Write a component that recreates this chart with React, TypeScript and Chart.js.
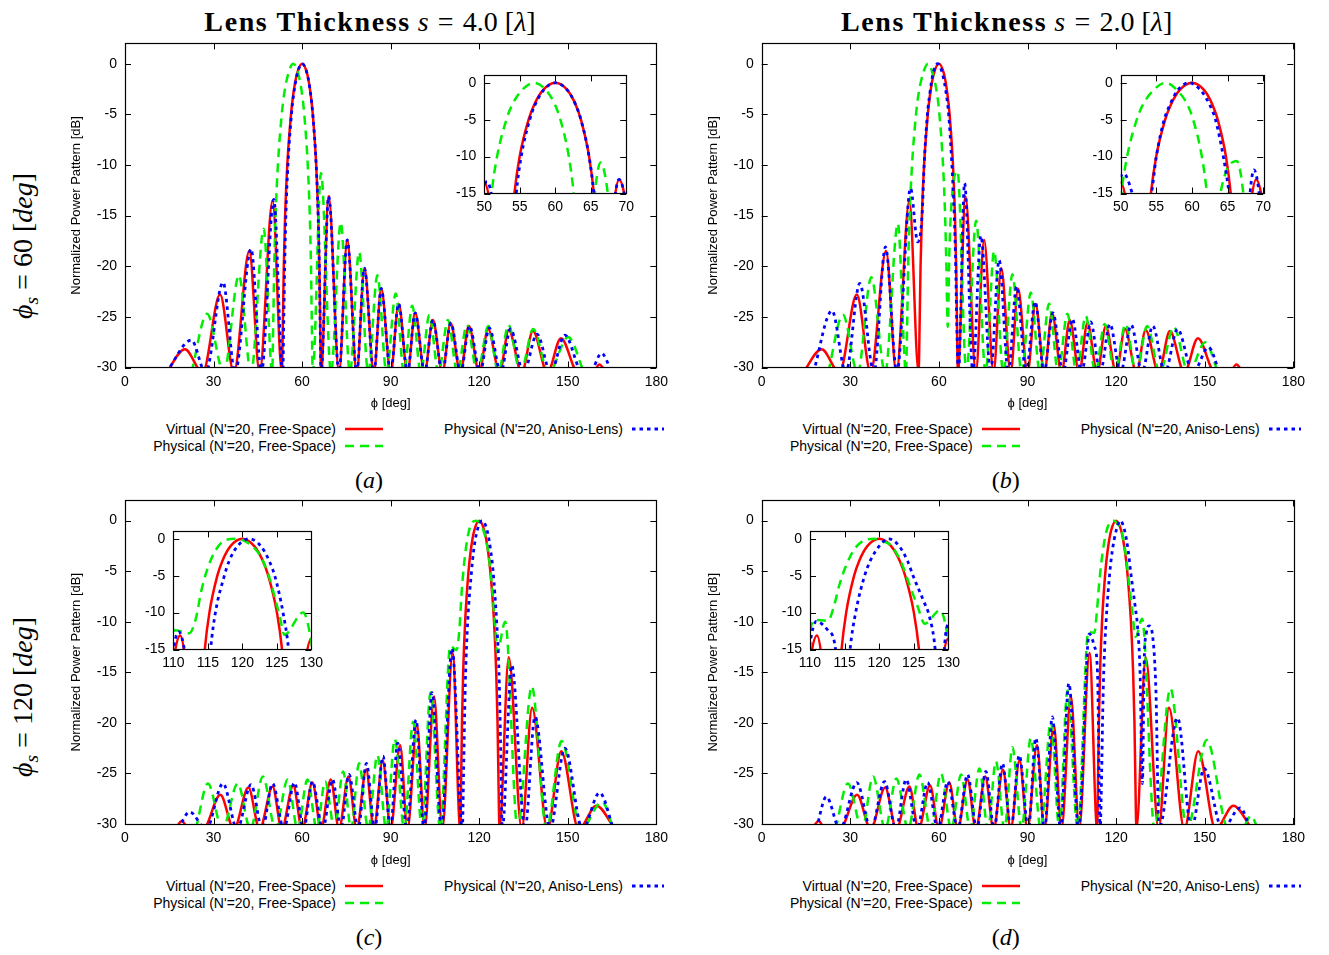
import React, { useEffect, useRef } from "react";
import { Chart, registerables } from "chart.js";
Chart.register(...registerables);

type Pt = [number, number];

// ---------- tick labels ----------
const phiTicks = [0, 30, 60, 90, 120, 150, 180];
const dbTicks = [-30, -25, -20, -15, -10, -5, 0];
const zoomDbTicks = [-15, -10, -5, 0];
const zoomPhiTicks60 = [50, 55, 60, 65, 70];
const zoomPhiTicks120 = [110, 115, 120, 125, 130];

const seriesNames = [
  "Virtual (N'=20, Free-Space)",
  "Physical (N'=20, Free-Space)",
  "Physical (N'=20, Aniso-Lens)",
];
const thicknessLabels = ["4.0", "2.0"];
const scanLabels = ["60", "120"];
const captionLetters = ["a", "b", "c", "d"];

// ---------- series (phi [deg], normalized power [dB]); -30.5 marks a null just below the axis ----------
const virtual60: Pt[] = [
  [14, -30.5], [20.3, -28.2], [26.3, -30.5], [32.2, -22.8], [36.9, -30.5], [42.1, -18.5], [45.6, -30.5], [50.0, -13.5],
  [53.13, -30.5], [53.51, -25], [53.79, -20], [54.24, -15], [54.98, -10], [56.24, -5], [57.02, -3], [58.27, -1], [60, 0],
  [61.71, -1], [62.89, -3], [63.62, -5], [64.77, -10], [65.44, -15], [65.84, -20], [66.09, -25], [66.42, -30.5],
  [69.0, -13.1], [72.5, -30.5], [75.3, -17.4], [78.5, -30.5], [81.1, -20.2], [84.3, -30.5], [86.8, -22.2], [90, -30.5],
  [92.7, -23.7], [95.7, -30.5], [98.3, -24.6], [101.5, -30.5], [104.3, -25.3], [107.5, -30.5], [110.3, -25.6], [113.6, -30.5],
  [116.5, -25.9], [120, -30.5], [123, -26.2], [126.9, -30.5], [130, -26.3], [134.4, -30.5], [138.2, -26.4], [143.1, -30.5],
  [147.7, -27.1], [153.5, -30.5], [158.5, -30.5], [160.7, -29.7], [163, -30.5],
];
const physFree60s4: Pt[] = [
  [22.5, -30.5], [27.8, -24.7], [33.5, -30.5], [38.6, -20.9], [42.7, -30.5], [47.0, -16.3], [49.87, -30.5],
  [50.26, -25], [50.55, -20], [51.02, -15], [51.8, -10], [53.11, -5], [53.92, -3], [55.3, -1], [57, 0], [58.7, -1],
  [59.98, -3], [60.73, -5], [61.91, -10], [62.6, -15], [63.01, -20], [63.26, -25], [63.6, -30.5],
  [66.4, -10.8], [69.8, -30.5], [73.1, -15.7], [76.2, -30.5], [79.3, -18.6], [82.4, -30.5], [85.5, -20.9], [88.6, -30.5],
  [91.7, -22.7], [94.5, -30.5], [97.3, -23.9], [100.2, -30.5], [103.1, -24.8], [106.2, -30.5], [109.4, -25.3], [112.6, -30.5],
  [115.8, -25.8], [119.4, -30.5], [123.1, -25.9], [126.5, -30.5], [129.9, -25.8], [134, -30.5], [138.3, -26.2], [143.5, -30.5],
  [150.1, -27.0], [155.5, -30.5],
];
const aniso60s4: Pt[] = [
  [14, -30.5], [22.5, -27.3], [27.3, -30.5], [33.2, -21.6], [37.3, -30.5], [42.7, -18.3], [46.2, -30.5], [50.4, -13.4],
  [53.45, -30.5], [53.8, -25], [54.1, -20], [54.5, -15], [55.2, -10], [56.4, -5], [57.15, -3], [58.35, -1], [60, 0],
  [61.71, -1], [62.89, -3], [63.62, -5], [64.77, -10], [65.44, -15], [65.84, -20], [66.09, -25], [66.42, -30.5],
  [69.0, -13.1], [72.5, -30.5], [75.3, -17.4], [78.5, -30.5], [81.1, -20.2], [84.3, -30.5], [86.8, -22.2], [90, -30.5],
  [92.7, -23.7], [95.7, -30.5], [98.3, -24.6], [101.5, -30.5], [104.3, -25.3], [107.5, -30.5], [110.4, -25.6], [113.7, -30.5],
  [116.7, -25.9], [120.3, -30.5], [123.4, -26.1], [127.3, -30.5], [130.6, -26.2], [135, -30.5], [139.6, -26.7], [144.2, -30.5],
  [149, -26.8], [155, -30.5], [157.5, -30.5], [161.4, -28.6], [165, -30.5],
];
const physFree60s2: Pt[] = [
  [22.5, -30.5], [27.5, -24.8], [32.5, -30.5], [37.1, -21.1], [41.8, -30.5], [46.1, -15.8], [48.87, -30.5],
  [49.29, -25], [49.58, -20], [50.08, -15], [50.9, -10], [52.25, -5], [53.1, -3], [54.6, -1], [56.3, 0], [57.9, -1],
  [59.39, -3], [60.17, -5], [61.39, -10], [62.1, -15], [62.53, -20], [63.0, -26], [63.5, -19], [64.2, -14],
  [66.3, -10.6], [69.3, -30.5], [72.6, -15.5], [75.8, -30.5], [78.7, -18.5], [81.8, -30.5], [84.9, -20.8], [88, -30.5],
  [91.1, -22.6], [94.2, -30.5], [97.3, -23.7], [100.4, -30.5], [103.5, -24.7], [106.6, -30.5], [109.7, -24.9], [113, -30.5],
  [116.1, -25.7], [119.6, -30.5], [123.2, -25.7], [126.8, -30.5], [130.5, -25.9], [134.8, -30.5], [139.5, -26.0], [144.5, -30.5],
  [150.2, -27.5], [154.5, -30.5],
];
const aniso60s2: Pt[] = [
  [17.5, -30.5], [23.8, -24.4], [28.5, -30.5], [33.2, -21.7], [38, -30.5], [41.9, -18.1], [45.8, -30.5], [50.4, -12.3],
  [52.8, -17.6], [54.3, -15], [55.0, -10], [56.1, -5], [56.9, -3], [58.0, -1], [59.6, 0], [61.2, -1], [62.5, -3],
  [63.3, -5], [64.4, -10], [65.2, -15], [65.7, -20], [66.0, -25], [66.6, -30.5],
  [68.7, -11.8], [71.5, -30.5], [74.2, -17.0], [77.5, -30.5], [80.4, -19.4], [83.5, -30.5], [86.3, -22.0], [89.5, -30.5],
  [92.6, -23.5], [95.6, -30.5], [98.6, -24.6], [102, -30.5], [105.2, -25.2], [108.3, -30.5], [111.4, -25.5], [114.6, -30.5],
  [117.9, -25.7], [121.5, -30.5], [125.1, -25.8], [128.8, -30.5], [132.4, -25.9], [136.5, -30.5], [140.8, -26.2], [146, -30.5],
  [151.3, -28.0], [155, -30.5],
];
const virtual120: Pt[] = [
  [17, -30.5], [19.3, -29.7], [21.5, -30.5], [26.5, -30.5], [32.3, -27.1], [36.9, -30.5], [41.8, -26.4], [45.6, -30.5],
  [50, -26.3], [53.1, -30.5], [57, -26.2], [60, -30.5], [63.5, -25.9], [66.4, -30.5], [69.7, -25.6], [72.5, -30.5],
  [75.7, -25.3], [78.5, -30.5], [81.7, -24.6], [84.3, -30.5], [87.3, -23.7], [90, -30.5], [93.2, -22.2], [95.7, -30.5],
  [98.9, -20.2], [101.5, -30.5], [104.7, -17.4], [107.5, -30.5], [111, -13.1], [113.58, -30.5],
  [113.91, -25], [114.16, -20], [114.56, -15], [115.23, -10], [116.38, -5], [117.11, -3], [118.29, -1], [120, 0],
  [121.73, -1], [122.98, -3], [123.76, -5], [125.02, -10], [125.76, -15], [126.21, -20], [126.49, -25], [126.87, -30.5],
  [130, -13.5], [134.4, -30.5], [137.9, -18.5], [143.1, -30.5], [147.8, -22.8], [153.7, -30.5], [159.7, -28.2], [166, -30.5],
];
const physFree120s4: Pt[] = [
  [24, -30.5], [28.1, -26.0], [33, -30.5], [38.2, -26.0], [42.5, -30.5], [46.7, -25.3], [51, -30.5], [55.1, -25.6],
  [58.5, -30.5], [61.8, -25.6], [65, -30.5], [67.8, -25.8], [71, -30.5], [73.9, -24.8], [76.6, -30.5], [79.3, -24.0],
  [82.4, -30.5], [85.5, -23.2], [88.5, -30.5], [91.4, -21.6], [94.6, -30.5], [97.6, -19.9], [100.6, -30.5], [103.5, -17.0],
  [106.8, -30.5], [110.2, -12.4], [112.3, -12.8], [113.3, -10.7], [114.0, -7.3], [114.9, -4.2], [116.1, -1.6],
  [117.5, -0.2], [119.1, 0], [120.9, -0.6], [122.6, -2.3], [123.8, -4.9], [124.7, -7.9], [125.4, -10.4], [126.1, -13.0],
  [128.8, -10.0], [133, -30.5], [137.8, -16.4], [142.8, -30.5], [147.9, -21.8], [154.5, -30.5], [161.6, -27.8], [165.5, -30.5],
];
const aniso120s4: Pt[] = [
  [18, -30.5], [21.9, -28.8], [27.5, -30.5], [33.2, -26.0], [38, -30.5], [42.7, -26.1], [46.5, -30.5], [50.0, -26.0],
  [53.8, -30.5], [57.4, -25.9], [60.5, -30.5], [63.5, -25.8], [67, -30.5], [70.3, -25.6], [73.2, -30.5], [75.9, -25.1],
  [79, -30.5], [81.8, -24.0], [84.6, -30.5], [87.4, -23.3], [89.9, -30.5], [92.4, -22.0], [95.5, -30.5], [98.6, -19.7],
  [101.3, -30.5], [104.0, -17.0], [107.2, -30.5], [110.8, -12.6], [114.3, -30.5], [114.7, -25], [115.0, -20], [115.4, -15],
  [116.1, -10], [117.4, -5], [118.1, -3], [119.3, -1], [121, 0], [122.7, -1], [123.9, -3], [124.7, -5], [125.9, -10],
  [126.7, -15], [127.1, -20], [127.4, -25], [127.8, -30.5], [131, -14.3], [135.5, -30.5], [138.9, -19.4], [144, -30.5],
  [149, -22.5], [155, -30.5], [160.8, -26.9], [165.5, -30.5],
];
const physFree120s2: Pt[] = [
  [25, -30.5], [29.2, -26.0], [34, -30.5], [37.7, -25.3], [41.8, -30.5], [45.6, -25.5], [49.6, -30.5], [53.4, -25.1],
  [57.2, -30.5], [60.7, -25.0], [64.2, -30.5], [67.5, -25.1], [70.6, -30.5], [73.7, -24.5], [76.6, -30.5], [79.3, -23.8],
  [82.2, -30.5], [84.9, -22.4], [88, -30.5], [91.1, -21.5], [94.5, -30.5], [97.9, -19.9], [100.8, -30.5], [103.5, -16.8],
  [107, -30.5], [110.6, -11.0], [112.6, -11.1], [113.5, -9.0], [114.2, -6.4], [115.1, -3.9], [116.5, -1.3],
  [118.2, -0.1], [119.3, 0], [120.4, -0.3], [121.7, -0.9], [123.1, -3.0], [124.3, -6.0], [125.5, -9.0], [126.6, -11.5],
  [128.8, -9.7], [133, -30.5], [138.4, -16.6], [144, -30.5], [150.7, -21.7], [158, -30.5], [162.5, -30.5], [165.7, -29.2], [168, -30.5],
];
const aniso120s2: Pt[] = [
  [18.5, -30.5], [21.9, -27.3], [26.5, -30.5], [32.2, -25.9], [37, -30.5], [41.6, -25.8], [45.4, -30.5], [48.9, -25.6],
  [52.6, -30.5], [56.2, -25.9], [59.6, -30.5], [63.0, -25.8], [66.4, -30.5], [69.7, -25.1], [72.8, -30.5], [75.9, -24.8],
  [78.7, -30.5], [81.5, -24.0], [84.4, -30.5], [87.2, -23.2], [90.3, -30.5], [92.8, -21.5], [95.8, -30.5], [98.4, -19.4],
  [101.2, -30.5], [104.0, -16.1], [107.3, -30.5], [110.9, -11.2], [112.6, -12.4], [113.7, -15], [114.6, -30.5],
  [115.1, -25], [115.4, -20], [115.8, -15], [116.6, -10], [117.9, -5], [118.7, -3], [120, -1], [121.4, 0],
  [122.9, -1], [124.1, -3], [124.9, -5], [126.5, -8.6], [127.2, -10.3], [128.1, -15], [128.9, -26], [129.5, -14],
  [130.2, -11.2], [131.2, -10.4], [132.4, -11.5], [133.5, -17], [134.5, -30.5], [140.8, -19.5], [145.5, -30.5],
  [149.8, -24.5], [156, -30.5], [162, -28.4], [165.5, -30.5],
];

// ---------- styling / layout ----------
const SANS = "'Liberation Sans', Arial, Helvetica, sans-serif";
const SERIF = "'Liberation Serif', 'Times New Roman', serif";
const RED = "#ff0000";
const GREEN = "#00ee00";
const BLUE = "#0000ff";

interface Rect { l: number; t: number; r: number; b: number }

interface PlotProps {
  red: Pt[]; green: Pt[]; blue: Pt[];
  area: Rect; box: Rect;
  xMin: number; xMax: number; yMin: number; yMax: number;
  xTicks: number[]; yTicks: number[];
  inset?: boolean;
}

function Plot(p: PlotProps) {
  const ref = useRef<HTMLCanvasElement>(null);
  useEffect(() => {
    const canvas = ref.current!;
    const tickLen = 6;
    const frame = {
      id: "frame",
      beforeDatasetsDraw(chart: any) {
        if (!p.inset) return;
        const a = chart.chartArea;
        const ctx = chart.ctx;
        ctx.save();
        ctx.fillStyle = "#fff";
        ctx.fillRect(a.left, a.top, a.right - a.left, a.bottom - a.top);
        ctx.restore();
      },
      afterDraw(chart: any) {
        const { ctx, chartArea: a } = chart;
        const xs = chart.scales.x, ys = chart.scales.y;
        ctx.save();
        ctx.strokeStyle = "#000";
        ctx.lineWidth = 1;
        ctx.beginPath();
        for (const t of xs.ticks) {
          const px = Math.round(xs.getPixelForValue(t.value)) + 0.5;
          ctx.moveTo(px, a.bottom); ctx.lineTo(px, a.bottom - tickLen);
          ctx.moveTo(px, a.top); ctx.lineTo(px, a.top + tickLen);
        }
        for (const t of ys.ticks) {
          const py = Math.round(ys.getPixelForValue(t.value)) + 0.5;
          ctx.moveTo(a.left, py); ctx.lineTo(a.left + tickLen, py);
          ctx.moveTo(a.right, py); ctx.lineTo(a.right - tickLen, py);
        }
        ctx.stroke();
        ctx.lineWidth = 1.2;
        ctx.strokeRect(Math.round(a.left) + 0.5, Math.round(a.top) + 0.5,
          Math.round(a.right - a.left), Math.round(a.bottom - a.top));
        ctx.restore();
      },
    };
    const mk = (pts: Pt[], color: string, dash: number[], width: number) => ({
      data: pts.map(([x, y]) => ({ x, y })),
      borderColor: color,
      borderWidth: width,
      borderDash: dash,
      borderCapStyle: "butt",
      pointRadius: 0,
      fill: false,
      cubicInterpolationMode: "monotone",
      clip: 0,
    });
    const chart = new Chart(canvas, {
      type: "line",
      data: {
        datasets: [
          mk(p.blue, BLUE, [3.5, 4], 2.8),
          mk(p.green, GREEN, [9, 6], 2.5),
          mk(p.red, RED, [], 2.5),
        ] as any,
      },
      options: {
        animation: false,
        responsive: false,
        devicePixelRatio: 1,
        events: [],
        layout: { padding: { left: 0, bottom: 0, top: p.area.t - p.box.t, right: p.box.r - p.area.r } },
        plugins: { legend: { display: false }, tooltip: { enabled: false } },
        scales: {
          x: {
            type: "linear",
            min: p.xMin, max: p.xMax,
            afterBuildTicks: (s: any) => { s.ticks = p.xTicks.map((v) => ({ value: v })); },
            afterFit: (s: any) => { s.height = p.box.b - p.area.b; },
            grid: { display: false, drawTicks: false },
            border: { display: false },
            ticks: { color: "#000", font: { family: SANS, size: 14 }, padding: p.inset ? 5 : 6, maxRotation: 0, autoSkip: false },
            title: p.inset ? { display: false } : {
              display: true, text: "ϕ [deg]", color: "#000", font: { family: SANS, size: 13 }, padding: 0,
            },
          },
          y: {
            type: "linear",
            min: p.yMin, max: p.yMax,
            afterBuildTicks: (s: any) => { s.ticks = p.yTicks.map((v) => ({ value: v })); },
            afterFit: (s: any) => { s.width = p.area.l - p.box.l; },
            grid: { display: false, drawTicks: false },
            border: { display: false },
            ticks: { color: "#000", font: { family: SANS, size: 14 }, padding: 8, autoSkip: false },
            title: p.inset ? { display: false } : {
              display: true, text: "Normalized Power Pattern [dB]", color: "#000", font: { family: SANS, size: 13 }, padding: 0,
            },
          },
        },
      } as any,
      plugins: [frame],
    });
    return () => chart.destroy();
  }, []);
  return (
    <canvas
      ref={ref}
      width={p.box.r - p.box.l}
      height={p.box.b - p.box.t}
      style={{ position: "absolute", left: p.box.l, top: p.box.t }}
    />
  );
}

function Legend({ dx, dy }: { dx: number; dy: number }) {
  const row = (text: string, right: number, y: number) => (
    <div style={{
      position: "absolute", left: right - 400, width: 400, top: y - 9, textAlign: "right",
      font: `14px ${SANS}`, lineHeight: "18px", whiteSpace: "nowrap", color: "#000",
    }}>{text}</div>
  );
  const sample = (x1: number, x2: number, y: number, color: string, dash: string, w: number) => (
    <svg style={{ position: "absolute", left: x1, top: y - 3, overflow: "visible" }} width={x2 - x1} height={6}>
      <line x1={0} y1={3} x2={x2 - x1} y2={3} stroke={color} strokeWidth={w} strokeDasharray={dash} />
    </svg>
  );
  return (
    <>
      {row(seriesNames[0], 336 + dx, 429 + dy)}
      {sample(345 + dx, 383 + dx, 429 + dy, RED, "", 2.5)}
      {row(seriesNames[1], 336 + dx, 446 + dy)}
      {sample(345 + dx, 383 + dx, 446 + dy, GREEN, "9 6", 2.5)}
      {row(seriesNames[2], 623 + dx, 429 + dy)}
      {sample(632 + dx, 664 + dx, 429 + dy, BLUE, "3.5 4", 2.8)}
    </>
  );
}

export default function App() {
  const DX = 636.7;
  const DY = 456.5;
  const mainArea = (dx: number, dy: number): Rect => ({ l: 125 + dx, t: 42 + dy, r: 658.5 + dx, b: 367.5 + dy });
  const mainBox = (dx: number, dy: number): Rect => ({ l: Math.round(69 + dx), t: Math.round(27 + dy), r: Math.round(674 + dx), b: Math.round(411 + dy) });
  const insetArea = (l: number, t: number): Rect => ({ l, t, r: l + 143, b: t + 124.5 });
  const insetBox = (l: number, t: number): Rect => ({ l: Math.round(l - 46), t: Math.round(t - 10), r: Math.round(l + 155), b: Math.round(t + 149) });

  const panels = [
    { red: virtual60, green: physFree60s4, blue: aniso60s4, dx: 0, dy: 0, il: 484.3, it: 69, zx: zoomPhiTicks60 },
    { red: virtual60, green: physFree60s2, blue: aniso60s2, dx: DX, dy: 0, il: 1120.7, it: 69, zx: zoomPhiTicks60 },
    { red: virtual120, green: physFree120s4, blue: aniso120s4, dx: 0, dy: DY, il: 173.3, it: 525, zx: zoomPhiTicks120 },
    { red: virtual120, green: physFree120s2, blue: aniso120s2, dx: DX, dy: DY, il: 810, it: 525, zx: zoomPhiTicks120 },
  ];

  return (
    <div style={{ position: "absolute", left: 0, top: 0, width: 1329, height: 955, background: "#fff", overflow: "hidden" }}>
      {thicknessLabels.map((s, i) => (
        <div key={"t" + i} style={{
          position: "absolute", left: 370 + i * DX - 300, width: 600, top: 5, textAlign: "center",
          font: `bold 28px ${SERIF}`, lineHeight: "34px", whiteSpace: "nowrap", color: "#000",
        }}>
          <span style={{ letterSpacing: "1.6px" }}>Lens Thickness</span>{" "}
          <span style={{ fontStyle: "italic", fontWeight: "normal" }}>s</span>
          <span style={{ fontWeight: "normal", padding: "0 0.33em" }}>=</span>
          <span style={{ fontWeight: "normal" }}>{s} [</span>
          <span style={{ fontStyle: "italic", fontWeight: "normal" }}>λ</span>
          <span style={{ fontWeight: "normal" }}>]</span>
        </div>
      ))}
      {scanLabels.map((s, i) => (
        <div key={"r" + i} style={{
          position: "absolute", left: 25, top: 246 + i * 451, transform: "translate(-50%, -50%) rotate(-90deg)",
          font: `28px ${SERIF}`, whiteSpace: "nowrap", color: "#000",
        }}>
          <i>ϕ</i><sub style={{ fontSize: "0.7em", fontStyle: "italic" }}>s</sub> = {s} [<i>deg</i>]
        </div>
      ))}
      {panels.map((pn, i) => (
        <React.Fragment key={"p" + i}>
          <Plot red={pn.red} green={pn.green} blue={pn.blue}
            area={mainArea(pn.dx, pn.dy)} box={mainBox(pn.dx, pn.dy)}
            xMin={0} xMax={180} yMin={-30} yMax={2} xTicks={phiTicks} yTicks={dbTicks} />
          <Plot red={pn.red} green={pn.green} blue={pn.blue}
            area={insetArea(pn.il, pn.it)} box={insetBox(pn.il, pn.it)}
            xMin={pn.zx[0]} xMax={pn.zx[pn.zx.length - 1]} yMin={-15} yMax={1}
            xTicks={pn.zx} yTicks={zoomDbTicks} inset />
          <Legend dx={pn.dx} dy={pn.dy} />
          <div style={{
            position: "absolute", left: 369 + pn.dx - 50, width: 100, top: 480 + pn.dy - 15, textAlign: "center",
            font: `24px ${SERIF}`, lineHeight: "30px", color: "#000",
          }}>(<i>{captionLetters[i]}</i>)</div>
        </React.Fragment>
      ))}
    </div>
  );
}
